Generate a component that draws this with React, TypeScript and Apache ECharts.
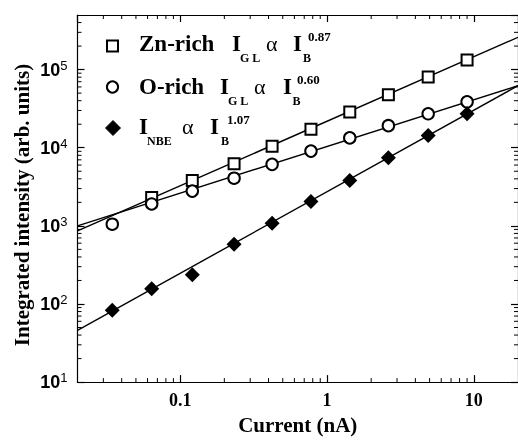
import React, { useEffect, useRef } from 'react';
import * as echarts from 'echarts';

// ---- data ----
const currents = [0.0345, 0.064, 0.121, 0.233, 0.423, 0.778, 1.43, 2.62, 4.89, 9.0];
const znRich: (number | null)[] = [null, 2300, 3810, 6250, 10450, 17260, 28560, 47600, 80300, 133000];
const oRich = [1050, 1905, 2786, 4074, 6130, 9060, 13360, 19150, 27200, 38700];
const nbe = [83, 157, 236, 582, 1080, 2055, 3810, 7420, 14300, 27200];

const fitX = [0.02, 20];
const znFit = [860, 259000];
const oFit = [1000, 62200];
const nbeFit = [46, 62200];

const xMin = 0.02;
const xMax = 20;
const yMin = 10;
const yMax = 500000;
const xTickLabels = ['0.1', '1', '10']; // exponents -1, 0, 1
const minorMultipliers = [2, 3, 4, 5, 6, 7, 8, 9];

const SERIF = 'Liberation Serif';
const SANS = 'Liberation Sans';
const INK = '#000';

function pairs(xs: number[], ys: (number | null)[]) {
  const out: number[][] = [];
  xs.forEach((x, i) => {
    const y = ys[i];
    if (y !== null && y !== undefined) out.push([x, y]);
  });
  return out;
}

function minorTicks(lo: number, hi: number) {
  const out: number[] = [];
  for (let e = -3; e <= 6; e++) {
    for (const m of minorMultipliers) {
      const v = m * Math.pow(10, e);
      if (v > lo * 1.0001 && v < hi * 0.9999) out.push(v);
    }
  }
  return out;
}

function txt(x: number, y: number, text: string, size: number, weight: string = 'bold') {
  return {
    type: 'text',
    x,
    y,
    silent: true,
    style: {
      text,
      fill: INK,
      font: `${weight} ${size}px ${SERIF}`,
      verticalAlign: 'middle',
    },
  };
}

export default function App() {
  const ref = useRef<HTMLDivElement>(null);

  useEffect(() => {
    if (!ref.current) return;
    const chart = echarts.init(ref.current, null, { renderer: 'svg' });

    const xMinor = minorTicks(xMin, xMax);
    const yMinor = minorTicks(yMin, yMax);

    const axisCommon = {
      type: 'log' as const,
      logBase: 10,
      axisLine: { show: true, lineStyle: { color: INK, width: 1.2 } },
      axisTick: { show: true, inside: true, length: 7, lineStyle: { color: INK, width: 1.2 } },
      splitLine: { show: false },
      minorTick: { show: false },
    };

    const legend = [
      {
        type: 'rect',
        shape: { x: 107, y: 40.5, width: 11, height: 11 },
        style: { fill: '#fff', stroke: INK, lineWidth: 2 },
        silent: true,
      },
      {
        type: 'circle',
        shape: { cx: 112.5, cy: 87, r: 5.6 },
        style: { fill: '#fff', stroke: INK, lineWidth: 2 },
        silent: true,
      },
      {
        type: 'polygon',
        shape: { points: [[113, 120.5], [120.5, 128], [113, 135.5], [105.5, 128]] },
        style: { fill: INK, stroke: INK, lineWidth: 1 },
        silent: true,
      },
      // row 1
      txt(139, 43.5, 'Zn-rich', 23),
      txt(232, 43.5, 'I', 23),
      txt(240, 57.5, 'G L', 12),
      txt(266, 43.5, 'α', 22, 'normal'),
      txt(293, 43.5, 'I', 23),
      txt(303, 57.5, 'B', 12),
      txt(308, 36.5, '0.87', 13),
      // row 2
      txt(139, 86.5, 'O-rich', 23),
      txt(220, 86.5, 'I', 23),
      txt(228, 100.5, 'G L', 12),
      txt(254, 86.5, 'α', 22, 'normal'),
      txt(283, 86.5, 'I', 23),
      txt(292.5, 100.5, 'B', 12),
      txt(297, 79, '0.60', 13),
      // row 3
      txt(139, 126.5, 'I', 23),
      txt(147, 140.5, 'NBE', 12),
      txt(182, 126.5, 'α', 22, 'normal'),
      txt(210, 126.5, 'I', 23),
      txt(221, 140.5, 'B', 12),
      txt(227, 119, '1.07', 13),
      {
        type: 'text',
        x: 22,
        y: 205,
        rotation: Math.PI / 2,
        silent: true,
        style: {
          text: 'Integrated intensity (arb. units)',
          fill: INK,
          font: `bold 21px ${SERIF}`,
          align: 'center',
          verticalAlign: 'middle',
        },
      },
    ];

    const option: any = {
      animation: false,
      textStyle: { fontFamily: SERIF },
      grid: { left: 77.5, top: 15, width: 442, height: 379, containLabel: false },
      xAxis: [
        {
          ...axisCommon,
          position: 'bottom',
          min: xMin,
          max: xMax,
          axisLabel: {
            show: true,
            margin: 9,
            color: INK,
            fontFamily: SERIF,
            fontWeight: 'bold',
            fontSize: 18,
            showMinLabel: false,
            showMaxLabel: false,
            formatter: (v: number) => {
              const e = Math.log10(v);
              const r = Math.round(e);
              if (Math.abs(e - r) > 1e-6) return '';
              return xTickLabels[r + 1] ?? '';
            },
          },
          name: 'Current (nA)',
          nameLocation: 'middle',
          nameGap: 25,
          nameTextStyle: { color: INK, fontFamily: SERIF, fontWeight: 'bold', fontSize: 21 },
        },
        {
          ...axisCommon,
          position: 'top',
          min: xMin,
          max: xMax,
          axisLabel: { show: false },
        },
      ],
      yAxis: [
        {
          ...axisCommon,
          position: 'left',
          min: yMin,
          max: yMax,
          axisLabel: {
            show: true,
            margin: 10,
            showMaxLabel: false,
            formatter: (v: number) => {
              const e = Math.log10(v);
              const r = Math.round(e);
              if (Math.abs(e - r) > 1e-6) return '';
              return `{a|10}{b|${r}}`;
            },
            rich: {
              a: { fontFamily: SANS, fontWeight: 'bold', fontSize: 18, color: INK, lineHeight: 22 },
              b: { fontFamily: SANS, fontWeight: 'normal', fontSize: 13, color: INK, verticalAlign: 'top', lineHeight: 13 },
            },
          },
        },
        {
          ...axisCommon,
          position: 'right',
          min: yMin,
          max: yMax,
          axisLabel: { show: false },
        },
      ],
      graphic: legend,
      series: [
        { type: 'line', data: pairs(fitX, znFit), symbol: 'none', lineStyle: { color: INK, width: 1.4 }, silent: true, z: 2 },
        { type: 'line', data: pairs(fitX, oFit), symbol: 'none', lineStyle: { color: INK, width: 1.4 }, silent: true, z: 2 },
        { type: 'line', data: pairs(fitX, nbeFit), symbol: 'none', lineStyle: { color: INK, width: 1.4 }, silent: true, z: 2 },
        {
          type: 'scatter',
          data: pairs(currents, znRich),
          symbol: 'rect',
          symbolSize: 11,
          itemStyle: { color: '#fff', borderColor: INK, borderWidth: 2, opacity: 1 },
          z: 5,
        },
        {
          type: 'scatter',
          data: pairs(currents, oRich),
          symbol: 'circle',
          symbolSize: 11.5,
          itemStyle: { color: '#fff', borderColor: INK, borderWidth: 2, opacity: 1 },
          z: 5,
        },
        {
          type: 'scatter',
          data: pairs(currents, nbe),
          symbol: 'diamond',
          symbolSize: 15,
          itemStyle: { color: INK, opacity: 1 },
          z: 6,
        },
        {
          type: 'custom',
          coordinateSystem: 'cartesian2d',
          silent: true,
          clip: false,
          data: xMinor.map((v) => [v, yMin]),
          renderItem: (_p: any, api: any) => {
            const x = api.value(0);
            const b = api.coord([x, yMin]);
            const t = api.coord([x, yMax]);
            return {
              type: 'group',
              children: [
                { type: 'line', shape: { x1: b[0], y1: b[1], x2: b[0], y2: b[1] - 4 }, style: { stroke: INK, lineWidth: 1 } },
                { type: 'line', shape: { x1: t[0], y1: t[1], x2: t[0], y2: t[1] + 4 }, style: { stroke: INK, lineWidth: 1 } },
              ],
            };
          },
          z: 3,
        },
        {
          type: 'custom',
          coordinateSystem: 'cartesian2d',
          silent: true,
          clip: false,
          data: yMinor.map((v) => [xMin, v]),
          renderItem: (_p: any, api: any) => {
            const y = api.value(1);
            const l = api.coord([xMin, y]);
            const r = api.coord([xMax, y]);
            return {
              type: 'group',
              children: [
                { type: 'line', shape: { x1: l[0], y1: l[1], x2: l[0] + 4, y2: l[1] }, style: { stroke: INK, lineWidth: 1 } },
                { type: 'line', shape: { x1: r[0], y1: r[1], x2: r[0] - 4, y2: r[1] }, style: { stroke: INK, lineWidth: 1 } },
              ],
            };
          },
          z: 3,
        },
      ],
    };

    chart.setOption(option);
    return () => chart.dispose();
  }, []);

  return <div ref={ref} style={{ position: 'fixed', left: 0, top: 0, width: 518, height: 440 }} />;
}
